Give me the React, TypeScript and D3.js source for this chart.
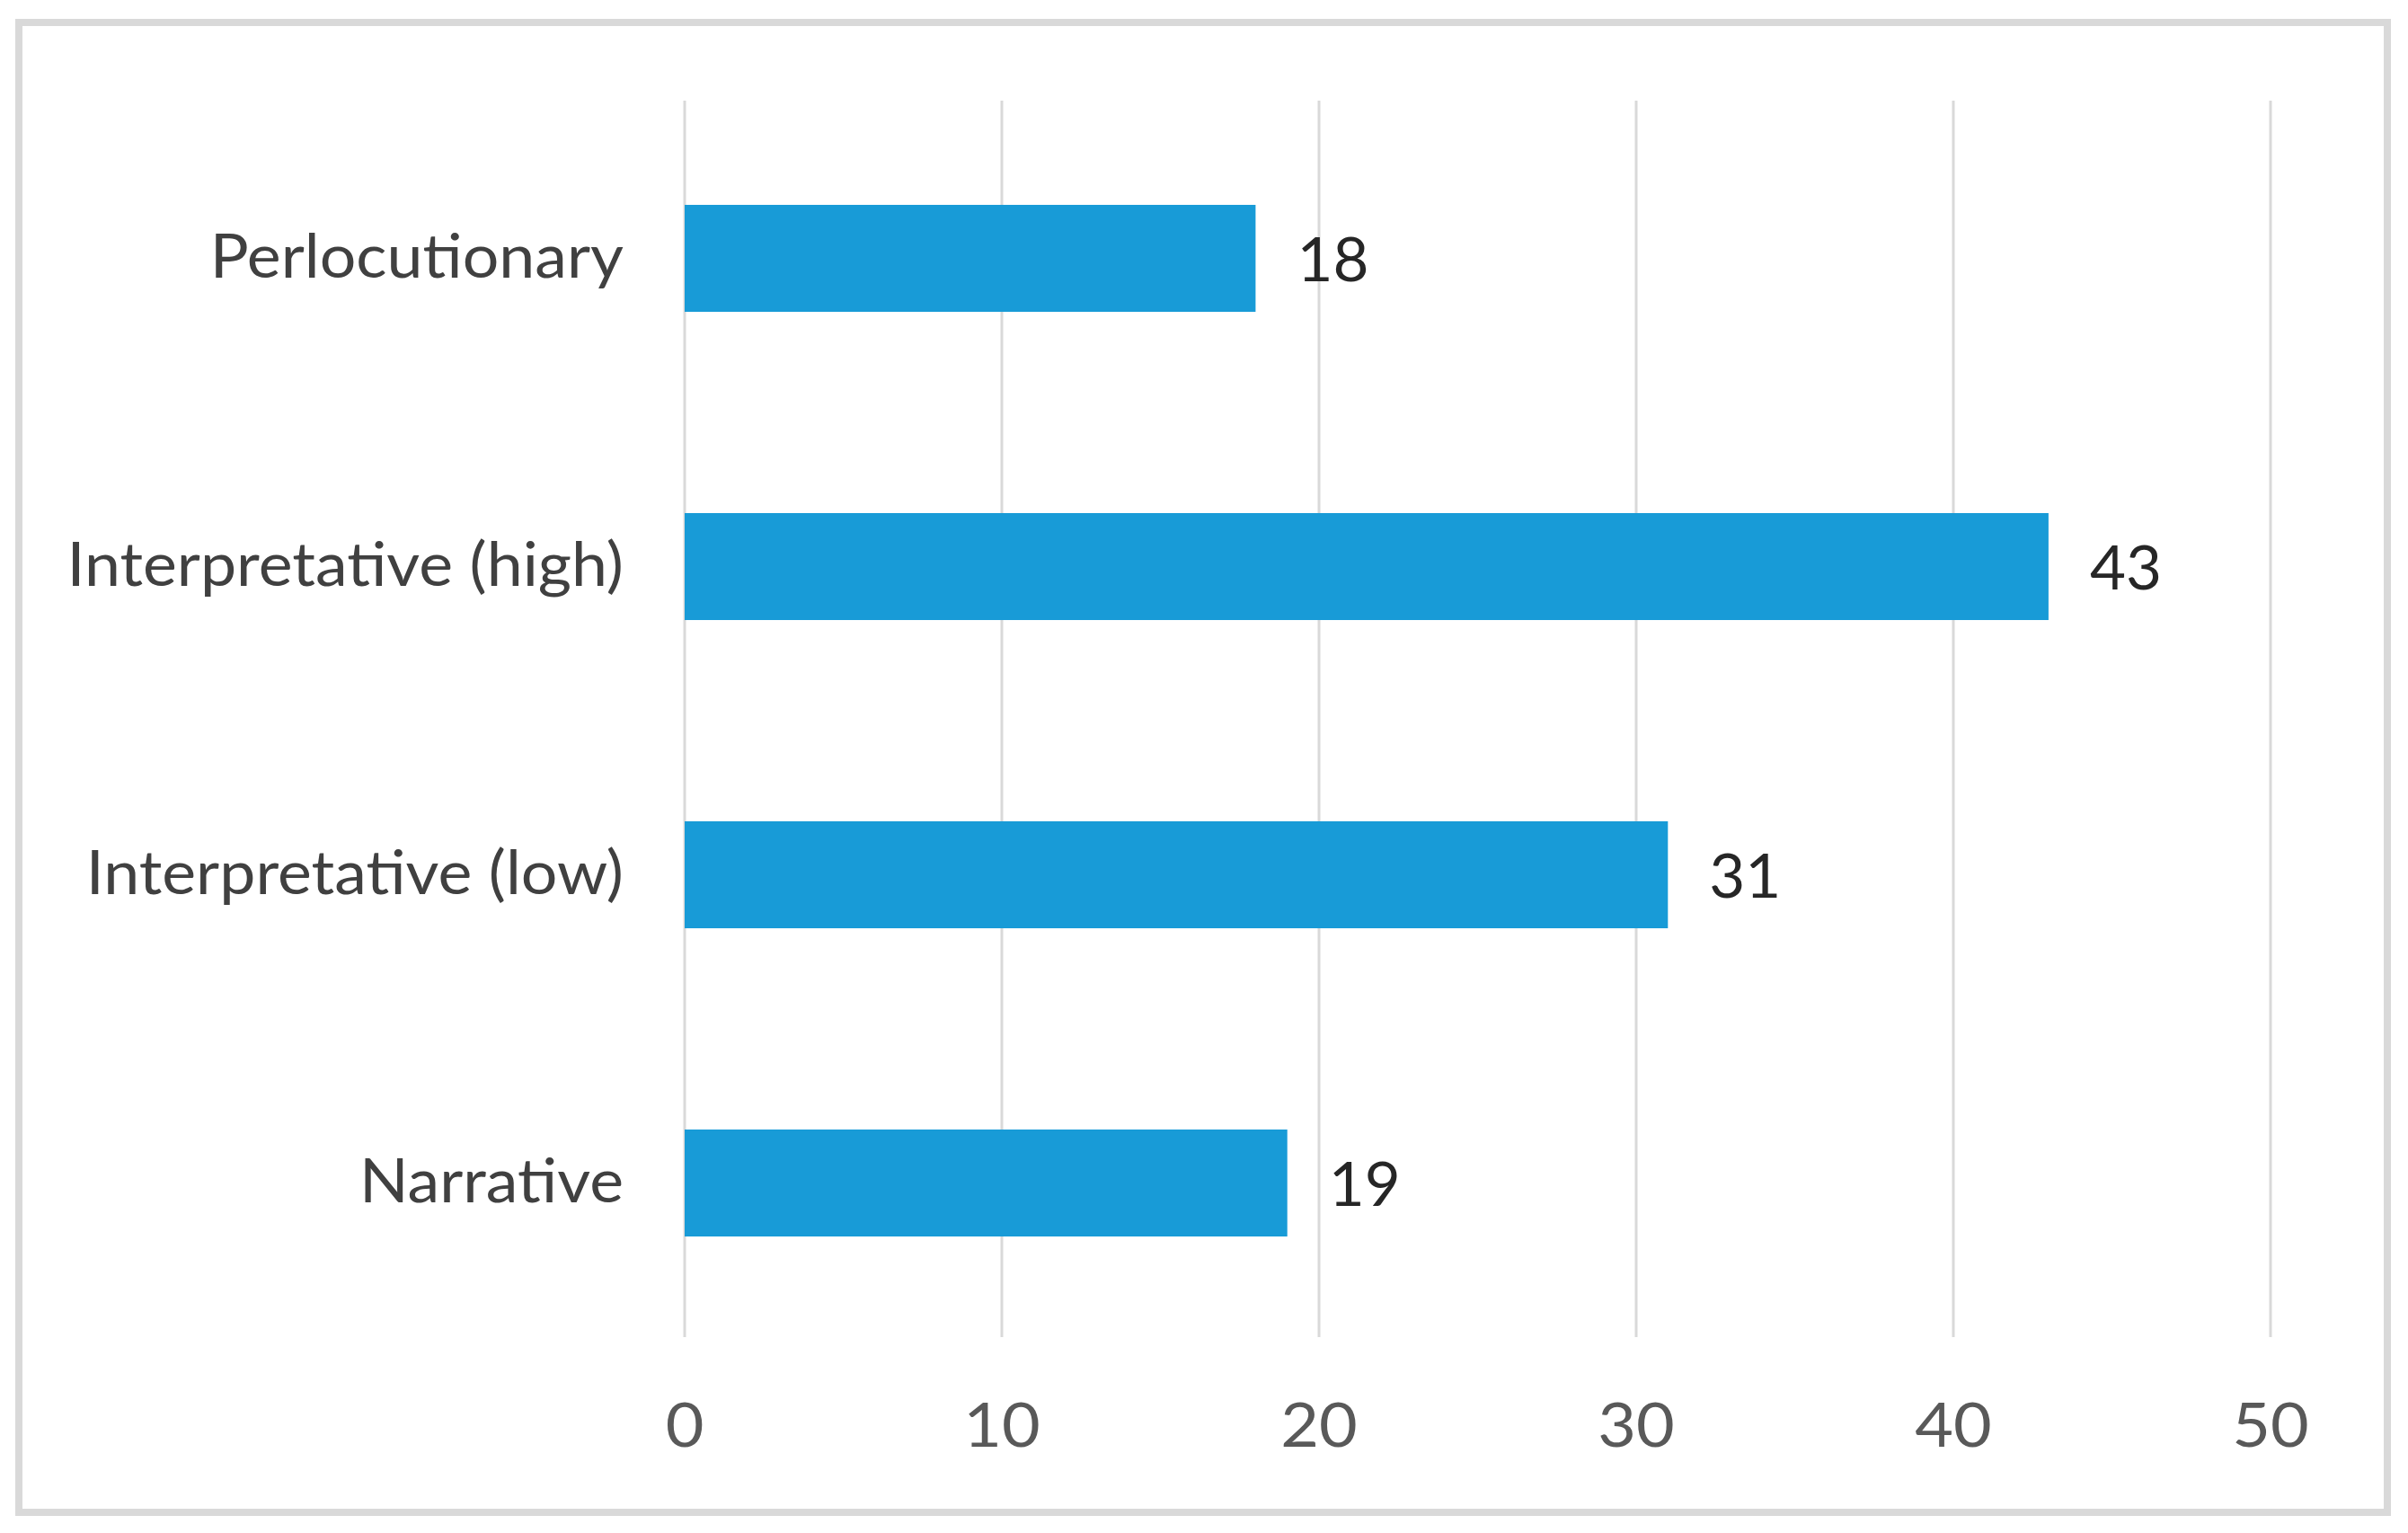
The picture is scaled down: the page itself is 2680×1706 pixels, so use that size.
import React from "react";
import * as d3 from "d3";

const categories = ["Perlocutionary", "Interpretative (high)", "Interpretative (low)", "Narrative"];
const values = [18, 43, 31, 19];
const xTicks = [0, 10, 20, 30, 40, 50];

const W = 2680;
const H = 1706;
const FONT = "Lato, 'Open Sans', sans-serif";
const FS = 67;
const SX_CAT = 1.07;
const SX_VAL = 1.03;
const SX_TICK = 1.1;

export default function App() {
  const x = d3.scaleLinear().domain([0, 50]).range([762, 2527]);
  const y = d3
    .scaleBand<string>()
    .domain(categories)
    .range([116, 1488])
    .paddingInner(0.653)
    .paddingOuter(0.3265);

  return (
    <svg
      width={W}
      height={H}
      viewBox={`0 0 ${W} ${H}`}
      style={{ position: "absolute", left: 0, top: 0, background: "#fff" }}
    >
      <rect x={0} y={0} width={W} height={H} fill="#fff" />
      <rect x={21} y={25} width={2636} height={1658} fill="#fff" stroke="#d9d9d9" strokeWidth={8} />
      {xTicks.map((t) => (
        <line key={"g" + t} x1={x(t)} x2={x(t)} y1={112} y2={1488} stroke="#d9d9d9" strokeWidth={3} />
      ))}
      {categories.map((c, i) => (
        <rect
          key={"b" + c}
          x={x(0)}
          y={y(c)!}
          width={x(values[i]) - x(0)}
          height={y.bandwidth()}
          fill="#189bd7"
        />
      ))}
      {categories.map((c) => (
        <text
          key={"l" + c}
          transform={`translate(694, ${y(c)! + y.bandwidth() / 2 + 21}) scale(${SX_CAT},1)`}
          textAnchor="end"
          fontFamily={FONT}
          fontSize={FS}
          fill="#404040"
        >
          {c}
        </text>
      ))}
      {categories.map((c, i) => (
        <text
          key={"v" + c}
          transform={`translate(${x(values[i]) + 46}, ${y(c)! + y.bandwidth() / 2 + 25}) scale(${SX_VAL},1)`}
          textAnchor="start"
          fontFamily={FONT}
          fontSize={FS}
          fill="#262626"
        >
          {values[i]}
        </text>
      ))}
      {xTicks.map((t) => (
        <text
          key={"t" + t}
          transform={`translate(${x(t)}, 1610) scale(${SX_TICK},1)`}
          textAnchor="middle"
          fontFamily={FONT}
          fontSize={FS}
          fill="#595959"
        >
          {t}
        </text>
      ))}
    </svg>
  );
}
